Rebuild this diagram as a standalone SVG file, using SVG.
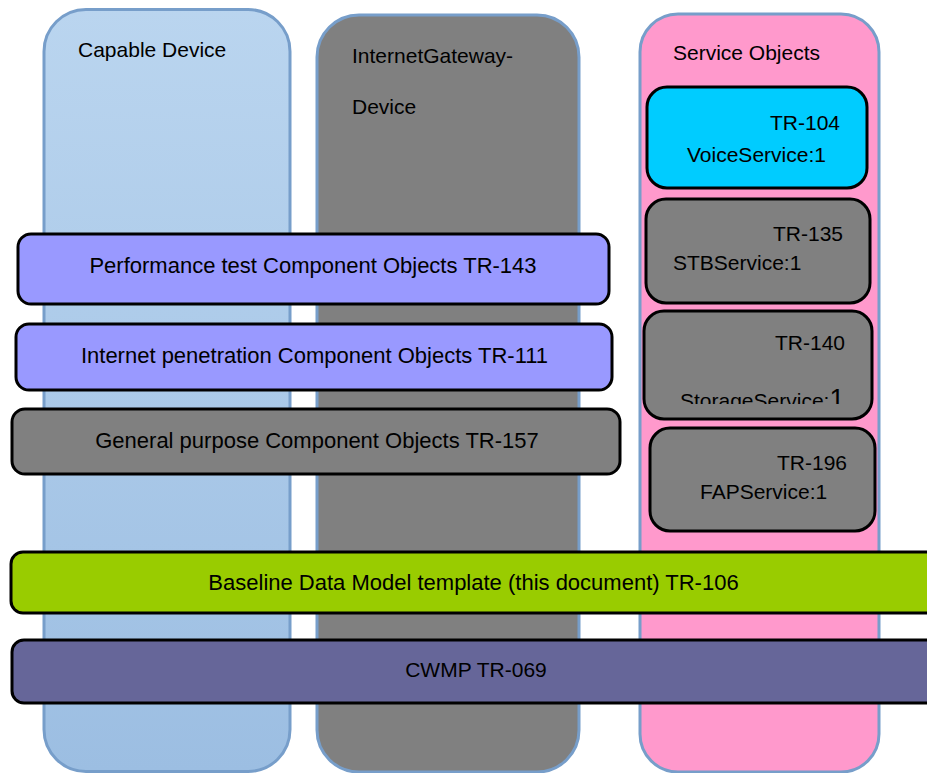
<svg xmlns="http://www.w3.org/2000/svg" width="927" height="773" viewBox="0 0 927 773">
<style>
text{font-family:"Liberation Sans",Arial,sans-serif;font-size:21px;fill:#000}
.col{stroke:#779ECA;stroke-width:3}
.box{stroke:#000;stroke-width:3}
.mid{text-anchor:middle}
.end{text-anchor:end}
.big{font-size:22px}
</style>
<defs>
<linearGradient id="blueGrad" x1="0" y1="0" x2="0" y2="1">
<stop offset="0" stop-color="#BAD5EF"/>
<stop offset="1" stop-color="#9CBEE2"/>
</linearGradient>
<clipPath id="clip140"><rect x="644" y="311" width="228" height="93"/></clipPath>
</defs>
<rect width="927" height="773" fill="#fff"/>
<g id="capable-device">
<rect class="col" x="44" y="9.5" width="246" height="762" rx="42" fill="url(#blueGrad)"/>
<text x="78" y="57">Capable Device</text>
</g>
<g id="internet-gateway-device">
<rect class="col" x="317" y="15" width="262" height="757" rx="42" fill="#808080"/>
<text x="352" y="63">InternetGateway-</text>
<text x="352" y="114">Device</text>
</g>
<g id="service-objects">
<rect class="col" x="640" y="14" width="239" height="758" rx="38" fill="#FF99CC"/>
<text x="673" y="60">Service Objects</text>
</g>
<g id="tr-104">
<rect class="box" x="647" y="87" width="220" height="101" rx="20" fill="#00CCFF"/>
<text class="end" x="840" y="130">TR-104</text>
<text x="687" y="162">VoiceService:1</text>
</g>
<g id="tr-135">
<rect class="box" x="646" y="199" width="224" height="104" rx="20" fill="#808080"/>
<text class="end" x="843" y="241">TR-135</text>
<text x="673" y="270">STBService:1</text>
</g>
<g id="tr-140">
<rect class="box" x="644" y="311" width="228" height="108" rx="20" fill="#808080"/>
<text class="end" x="845" y="350">TR-140</text>
<text x="680" y="408" clip-path="url(#clip140)">StorageService:<tspan font-size="27px">1</tspan></text>
</g>
<g id="tr-196">
<rect class="box" x="650" y="428" width="225" height="103" rx="20" fill="#808080"/>
<text class="end" x="847" y="470">TR-196</text>
<text x="700" y="499">FAPService:1</text>
</g>
<g id="performance-test">
<rect class="box" x="18" y="234" width="591" height="70" rx="13" fill="#9999FF"/>
<text class="mid big" x="313" y="273">Performance test Component Objects TR-143</text>
</g>
<g id="internet-penetration">
<rect class="box" x="16" y="324" width="596" height="66" rx="13" fill="#9999FF"/>
<text class="mid big" x="314.5" y="363">Internet penetration Component Objects TR-111</text>
</g>
<g id="general-purpose">
<rect class="box" x="12" y="409" width="608" height="65" rx="13" fill="#808080"/>
<text class="mid big" x="317" y="448">General purpose Component Objects TR-157</text>
</g>
<g id="baseline-data-model">
<rect class="box" x="11" y="552" width="940" height="61" rx="12" fill="#99CC00"/>
<text class="mid big" x="473.5" y="590">Baseline Data Model template (this document) TR-106</text>
</g>
<g id="cwmp">
<rect class="box" x="12" y="640" width="940" height="63" rx="12" fill="#666699"/>
<text class="mid" x="476" y="677">CWMP TR-069</text>
</g>
<g id="connectors"></g>
</svg>
